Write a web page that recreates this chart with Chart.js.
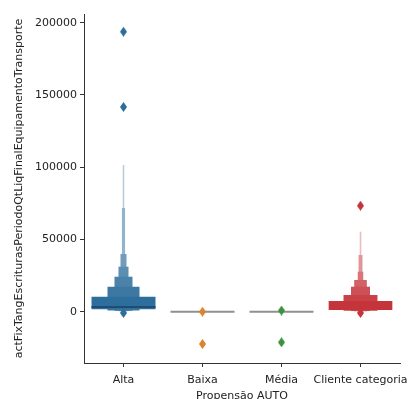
<!DOCTYPE html>
<html><head><meta charset="utf-8">
<script src="https://cdn.jsdelivr.net/npm/chart.js@4/dist/chart.umd.min.js"></script>
<style>html,body{margin:0;padding:0;overflow:hidden;background:#fff}</style>
</head><body>
<canvas id="c" width="408" height="412" style="display:block;width:408px;height:412px"></canvas>
<script>
// ---- data ----
const categories = ['Alta', 'Baixa', 'Média', 'Cliente categoria'];
const yTicks = [0, 50000, 100000, 150000, 200000];
// letter-value boxes, innermost (widest) first: [low, high]
const altaBoxes = [[1660, 10380], [900, 17300], [600, 24220], [400, 31140], [200, 39930], [100, 71760], [0, 101500]];
const altaMedian = 3250;
const clienteBoxes = [[1180, 7400], [700, 11560], [450, 17300], [300, 21940], [200, 27680], [100, 39240], [0, 55360]];
const baixaMedian = 0;
const mediaMedian = 0;
const altaOutliers = [193760, 141650, -900];
const baixaOutliers = [0, -22350];
const mediaOutliers = [800, -21170];
const clienteOutliers = [73350, -900];

// ---- styles ----
const altaWidths = [0.81, 0.405, 0.228, 0.127, 0.076, 0.04, 0.02];
const clienteWidths = [0.806, 0.43, 0.24, 0.16, 0.07, 0.05, 0.02];
const lightness = [0, 0.07, 0.14, 0.22, 0.32, 0.48, 0.66];
const blue = [46, 110, 156], orange = [225, 129, 44], green = [58, 146, 58], red = [196, 52, 58];

function mix(c, t) {
  return 'rgb(' + c.map(v => Math.round(v + (255 - v) * t)).join(',') + ')';
}
function diamond(c) {
  const cv = document.createElement('canvas');
  cv.width = 7; cv.height = 10;
  const g = cv.getContext('2d');
  g.fillStyle = mix(c, 0);
  g.beginPath();
  g.moveTo(3.5, 0); g.lineTo(7, 5); g.lineTo(3.5, 10); g.lineTo(0, 5); g.closePath();
  g.fill();
  return cv;
}
function onlyAt(idx, val) {
  return categories.map((_, i) => (i === idx ? val : null));
}

const datasets = [];
// outliers
[[0, altaOutliers, blue], [1, baixaOutliers, orange], [2, mediaOutliers, green], [3, clienteOutliers, red]].forEach(([i, arr, col]) => {
  datasets.push({
    type: 'line', showLine: false, order: 0,
    data: arr.map(v => ({ x: categories[i], y: v })),
    pointStyle: diamond(col), pointRadius: 5, pointHoverRadius: 5
  });
});
// median lines
datasets.push({
  type: 'bar', order: 1, grouped: false, categoryPercentage: 1, barPercentage: altaWidths[0],
  data: onlyAt(0, [altaMedian - 700, altaMedian + 700]), backgroundColor: '#1e4d73', borderWidth: 0
});
datasets.push({
  type: 'bar', order: 1, grouped: false, categoryPercentage: 1, barPercentage: 0.81,
  data: [null, [baixaMedian - 650, baixaMedian + 650], [mediaMedian - 650, mediaMedian + 650], null],
  backgroundColor: '#8f8f8f', borderWidth: 0
});
// boxes
altaBoxes.forEach((b, k) => {
  datasets.push({
    type: 'bar', order: 2 + k, grouped: false, categoryPercentage: 1, barPercentage: altaWidths[k],
    data: onlyAt(0, b), backgroundColor: mix(blue, lightness[k]), borderWidth: 0
  });
});
clienteBoxes.forEach((b, k) => {
  datasets.push({
    type: 'bar', order: 2 + k, grouped: false, categoryPercentage: 1, barPercentage: clienteWidths[k],
    data: onlyAt(3, b), backgroundColor: mix(red, lightness[k]), borderWidth: 0
  });
});

Chart.defaults.font.family = 'DejaVu Sans';
Chart.defaults.color = '#222';

new Chart(document.getElementById('c'), {
  type: 'bar',
  data: { labels: categories, datasets },
  options: {
    responsive: false, animation: false,
    layout: { padding: { top: 14, right: 8, left: 0, bottom: 0 } },
    plugins: { legend: { display: false }, tooltip: { enabled: false } },
    scales: {
      x: {
        type: 'category', offset: true,
        grid: { display: true, drawOnChartArea: false, drawTicks: true, tickLength: 4, color: '#333', offset: false },
        border: { display: true, color: '#333', width: 1 },
        ticks: { color: '#222', font: { size: 11 }, padding: 7, maxRotation: 0, autoSkip: false },
        title: { display: true, text: 'Propensão AUTO', color: '#222', font: { size: 11 }, padding: { top: 0, bottom: 9 } },
        afterFit: s => { s.height = 49; s.paddingLeft = 0; s.paddingRight = 0; }
      },
      y: {
        type: 'linear', min: -35500, max: 206000,
        afterBuildTicks: s => { s.ticks = yTicks.map(v => ({ value: v })); },
        grid: { display: true, drawOnChartArea: false, drawTicks: true, tickLength: 4, color: '#333' },
        border: { display: true, color: '#333', width: 1 },
        ticks: { color: '#222', font: { size: 11 }, padding: 3, callback: v => String(v) },
        title: { display: true, text: 'actFixTangEscriturasPeriodoQtLiqFinalEquipamentoTransporte', color: '#222', font: { size: 11 }, padding: { top: 13, bottom: 0 } },
        afterFit: s => { s.width = 84; }
      }
    }
  }
});
</script>
</body></html>
